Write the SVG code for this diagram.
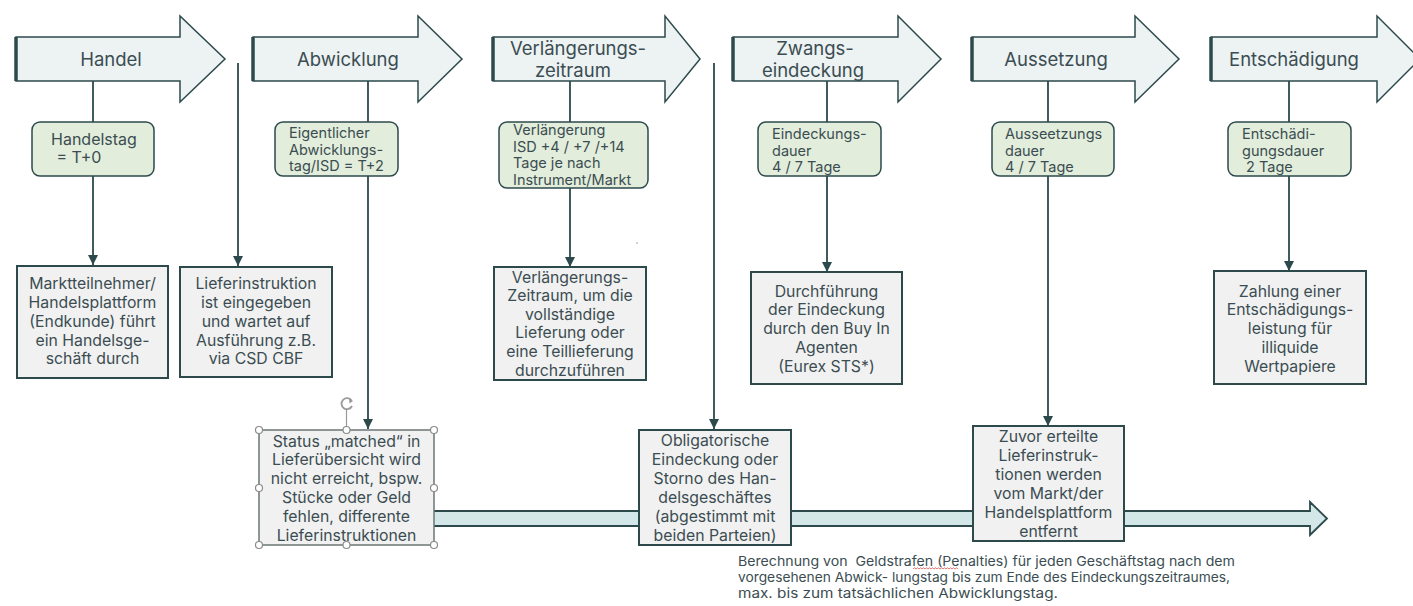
<svg xmlns="http://www.w3.org/2000/svg" width="1413" height="606" viewBox="0 0 1413 606">
<defs>
<style>
.t{font-family:Inter,"Noto Sans","Liberation Sans",sans-serif;fill:#3b4d52}
.h{font-size:18.5px;text-anchor:middle}
.g{font-size:14.5px}
.b{font-size:15.8px;text-anchor:middle}
.n{font-size:13.5px;white-space:pre}
.ar{fill:#edf2f2;stroke:#2c4a4c;stroke-width:1.5;stroke-linejoin:miter}
.edge{stroke:#2c4a4c;stroke-width:3.5}
.gb{fill:#e2eedb;stroke:#2c4a4c;stroke-width:1.5}
.box{fill:#f1f1f1;stroke:#2c4a4c;stroke-width:2}
.ln{fill:none;stroke:#2c4a4c;stroke-width:1.8}
.hd{fill:#fff;stroke:#8a8a8a;stroke-width:1.2}
</style>
<marker id="ah" viewBox="0 0 10 10" refX="10" refY="5" markerWidth="10" markerHeight="10" markerUnits="userSpaceOnUse" orient="auto">
<path d="M0,0 L10,5 L0,10 z" fill="#2c4a4c"/>
</marker>
</defs>
<rect width="1413" height="606" fill="#ffffff"/>

<g id="band">
<polygon points="430,511 1310,511 1310,502 1327,518.5 1310,535 1310,526 430,526" fill="#d3e7e9" stroke="#2c4a4c" stroke-width="1.8"/>
</g>

<g id="connectors">
<path class="ln" d="M93,81 V122"/>
<path class="ln" d="M93,176 V265" marker-end="url(#ah)"/>
<path class="ln" d="M238,63 V266" marker-end="url(#ah)"/>
<path class="ln" d="M368,81 V122"/>
<path class="ln" d="M368,176 V429" marker-end="url(#ah)"/>
<path class="ln" d="M570,81 V122"/>
<path class="ln" d="M570,188 V267" marker-end="url(#ah)"/>
<path class="ln" d="M714,63 V429" marker-end="url(#ah)"/>
<path class="ln" d="M827,81 V122"/>
<path class="ln" d="M827,176 V272" marker-end="url(#ah)"/>
<path class="ln" d="M1048,81 V122"/>
<path class="ln" d="M1048,176 V426" marker-end="url(#ah)"/>
<path class="ln" d="M1289,81 V122"/>
<path class="ln" d="M1289,176 V271" marker-end="url(#ah)"/>
</g>

<g id="phase-handel">
<polygon class="ar" points="16,37 180,37 180,16 225,59 180,102 180,81 16,81"/>
<line class="edge" x1="16" y1="37" x2="16" y2="81"/>
<text class="t h" x="111" y="65.5">Handel</text>
</g>
<g id="phase-abwicklung">
<polygon class="ar" points="253,37 418,37 418,16 462,59 418,102 418,81 253,81"/>
<line class="edge" x1="253" y1="37" x2="253" y2="81"/>
<text class="t h" x="348" y="65.5">Abwicklung</text>
</g>
<g id="phase-verlaengerung">
<polygon class="ar" points="493,37 665,37 665,16 700,59 665,102 665,81 493,81"/>
<line class="edge" x1="493" y1="37" x2="493" y2="81"/>
<text class="t h" x="578" y="55">Verlängerungs-</text>
<text class="t h" x="573" y="77">zeitraum</text>
</g>
<g id="phase-zwangseindeckung">
<polygon class="ar" points="733,37 898,37 898,16 941,59 898,102 898,81 733,81"/>
<line class="edge" x1="733" y1="37" x2="733" y2="81"/>
<text class="t h" x="815" y="55">Zwangs-</text>
<text class="t h" x="813" y="77">eindeckung</text>
</g>
<g id="phase-aussetzung">
<polygon class="ar" points="972,37 1135,37 1135,16 1179,59 1135,102 1135,81 972,81"/>
<line class="edge" x1="972" y1="37" x2="972" y2="81"/>
<text class="t h" x="1056" y="65.5">Aussetzung</text>
</g>
<g id="phase-entschaedigung">
<polygon class="ar" points="1211,37 1377,37 1377,16 1420,59 1377,102 1377,81 1211,81"/>
<line class="edge" x1="1211" y1="37" x2="1211" y2="81"/>
<text class="t h" x="1294" y="65.5">Entschädigung</text>
</g>

<g id="info-handelstag">
<rect class="gb" x="32" y="122" width="122" height="54" rx="8"/>
<text class="t" font-size="16" x="51" y="145">Handelstag</text>
<text class="t" font-size="16" x="52" y="163" style="white-space:pre"> = T+0</text>
</g>
<g id="info-abwicklungstag">
<rect class="gb" x="275" y="122" width="123" height="54" rx="8"/>
<text class="t g" x="289" y="138">Eigentlicher</text>
<text class="t g" x="289" y="154.5">Abwicklungs-</text>
<text class="t g" x="289" y="171">tag/ISD = T+2</text>
</g>
<g id="info-verlaengerung">
<rect class="gb" x="499" y="122" width="149" height="66" rx="8"/>
<text class="t g" x="513" y="135">Verlängerung</text>
<text class="t g" x="513" y="151.5">ISD +4 / +7 /+14</text>
<text class="t g" x="513" y="168">Tage je nach</text>
<text class="t g" x="513" y="184.5">Instrument/Markt</text>
</g>
<g id="info-eindeckungsdauer">
<rect class="gb" x="758" y="122" width="123" height="54" rx="8"/>
<text class="t g" x="772" y="139">Eindeckungs-</text>
<text class="t g" x="772" y="155.5">dauer</text>
<text class="t g" x="772" y="172">4 / 7 Tage</text>
</g>
<g id="info-aussetzungsdauer">
<rect class="gb" x="992" y="122" width="122" height="54" rx="8"/>
<text class="t g" x="1005" y="139">Ausseetzungs</text>
<text class="t g" x="1005" y="155.5">dauer</text>
<text class="t g" x="1005" y="172">4 / 7 Tage</text>
</g>
<g id="info-entschaedigungsdauer">
<rect class="gb" x="1228" y="122" width="123" height="54" rx="8"/>
<text class="t g" x="1242" y="139">Entschädi-</text>
<text class="t g" x="1242" y="155.5">gungsdauer</text>
<text class="t g" x="1242" y="172" style="white-space:pre"> 2 Tage</text>
</g>

<g id="box-marktteilnehmer">
<rect class="box" x="17" y="266" width="151" height="112"/>
<text class="t b" x="92.5" y="288.5">Marktteilnehmer/</text>
<text class="t b" x="92.5" y="307.5">Handelsplattform</text>
<text class="t b" x="92.5" y="326.5">(Endkunde) führt</text>
<text class="t b" x="92.5" y="345.5">ein Handelsge-</text>
<text class="t b" x="92.5" y="364">schäft durch</text>
</g>
<g id="box-lieferinstruktion">
<rect class="box" x="180" y="267" width="152" height="110"/>
<text class="t b" x="256" y="288.5">Lieferinstruktion</text>
<text class="t b" x="256" y="307.5">ist eingegeben</text>
<text class="t b" x="256" y="326.5">und wartet auf</text>
<text class="t b" x="256" y="345.5">Ausführung z.B.</text>
<text class="t b" x="256" y="364">via CSD CBF</text>
</g>
<g id="box-verlaengerungszeitraum">
<rect class="box" x="494" y="267" width="152" height="113"/>
<text class="t b" x="570" y="282.5">Verlängerungs-</text>
<text class="t b" x="570" y="301">Zeitraum, um die</text>
<text class="t b" x="570" y="319.5">vollständige</text>
<text class="t b" x="570" y="338">Lieferung oder</text>
<text class="t b" x="570" y="357">eine Teillieferung</text>
<text class="t b" x="570" y="375.5">durchzuführen</text>
</g>
<g id="box-durchfuehrung">
<rect class="box" x="751" y="272" width="151" height="112"/>
<text class="t b" x="826.5" y="296.5">Durchführung</text>
<text class="t b" x="826.5" y="315">der Eindeckung</text>
<text class="t b" x="826.5" y="333.5">durch den Buy In</text>
<text class="t b" x="826.5" y="352.5">Agenten</text>
<text class="t b" x="826.5" y="372">(Eurex STS*)</text>
</g>
<g id="box-zahlung">
<rect class="box" x="1214" y="271" width="152" height="113"/>
<text class="t b" x="1290" y="296.5">Zahlung einer</text>
<text class="t b" x="1290" y="315">Entschädigungs-</text>
<text class="t b" x="1290" y="333.5">leistung für</text>
<text class="t b" x="1290" y="352.5">illiquide</text>
<text class="t b" x="1290" y="371.5">Wertpapiere</text>
</g>

<g id="box-status">
<rect x="259" y="430" width="175" height="115" fill="#f1f1f1" stroke="#6b7676" stroke-width="1.5"/>
<text class="t b" x="346.5" y="446.5">Status „matched“ in</text>
<text class="t b" x="346.5" y="465">Lieferübersicht wird</text>
<text class="t b" x="346.5" y="484">nicht erreicht, bspw.</text>
<text class="t b" x="346.5" y="503">Stücke oder Geld</text>
<text class="t b" x="346.5" y="522">fehlen, differente</text>
<text class="t b" x="346.5" y="540.5">Lieferinstruktionen</text>
<line x1="346.5" y1="409" x2="346.5" y2="430" stroke="#9a9a9a" stroke-width="1.2"/>
<path d="M351.5,400.5 A5.5,5.5 0 1 0 352,406" fill="none" stroke="#9a9a9a" stroke-width="1.8"/>
<path d="M349,398 L353,401 L349.5,403.5 z" fill="#9a9a9a"/>
<circle class="hd" cx="259" cy="430" r="3.5"/>
<circle class="hd" cx="346.5" cy="430" r="3.5"/>
<circle class="hd" cx="434" cy="430" r="3.5"/>
<circle class="hd" cx="259" cy="488" r="3.5"/>
<circle class="hd" cx="434" cy="488" r="3.5"/>
<circle class="hd" cx="259" cy="545" r="3.5"/>
<circle class="hd" cx="346.5" cy="545" r="3.5"/>
<circle class="hd" cx="434" cy="545" r="3.5"/>
</g>
<g id="box-obligatorisch">
<rect class="box" x="639" y="430" width="152" height="115"/>
<text class="t b" x="715" y="445.5">Obligatorische</text>
<text class="t b" x="715" y="464.5">Eindeckung oder</text>
<text class="t b" x="715" y="484">Storno des Han-</text>
<text class="t b" x="715" y="503">delsgeschäftes</text>
<text class="t b" x="715" y="522">(abgestimmt mit</text>
<text class="t b" x="715" y="540.5">beiden Parteien)</text>
</g>
<g id="box-zuvor">
<rect class="box" x="973" y="426" width="151" height="115"/>
<text class="t b" x="1048.5" y="441.5">Zuvor erteilte</text>
<text class="t b" x="1048.5" y="460.5">Lieferinstruk-</text>
<text class="t b" x="1048.5" y="480">tionen werden</text>
<text class="t b" x="1048.5" y="498.5">vom Markt/der</text>
<text class="t b" x="1048.5" y="517.5">Handelsplattform</text>
<text class="t b" x="1048.5" y="536.5">entfernt</text>
</g>

<g id="note">
<text class="t n" x="738" y="566" textLength="497" lengthAdjust="spacingAndGlyphs">Berechnung von  Geldstrafen (Penalties) für jeden Geschäftstag nach dem</text>
<text class="t n" x="738" y="582" textLength="492" lengthAdjust="spacingAndGlyphs">vorgesehenen Abwick- lungstag bis zum Ende des Eindeckungszeitraumes,</text>
<text class="t n" x="738" y="598" textLength="320" lengthAdjust="spacingAndGlyphs">max. bis zum tatsächlichen Abwicklungstag.</text>
<path d="M913,569 l1.5,-1.2 l1.5,1.2 l1.5,-1.2 l1.5,1.2 l1.5,-1.2 l1.5,1.2 l1.5,-1.2 l1.5,1.2 l1.5,-1.2 l1.5,1.2 l1.5,-1.2 l1.5,1.2 l1.5,-1.2 l1.5,1.2 l1.5,-1.2 l1.5,1.2 l1.5,-1.2 l1.5,1.2 l1.5,-1.2 l1.5,1.2 l1.5,-1.2 l1.5,1.2 l1.5,-1.2 l1.5,1.2 l1.5,-1.2 l1.5,1.2 l1.5,-1.2 l1.5,1.2 l1.5,-1.2 l1.5,1.2" fill="none" stroke="#d9534f" stroke-width="0.8"/>
</g>
<circle cx="637" cy="243" r="0.8" fill="#999"/>
</svg>
